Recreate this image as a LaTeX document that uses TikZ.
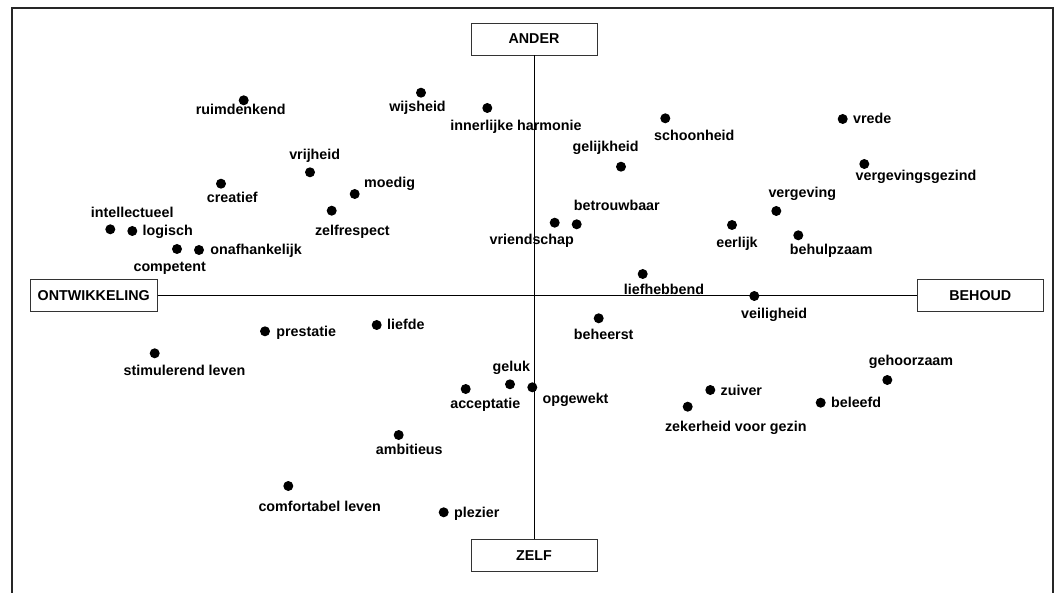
\documentclass[tikz,border=0pt]{standalone}
\usepackage{fontspec}
\setmainfont{Liberation Sans}
\usetikzlibrary{positioning}
\tikzset{
    dot/.style={circle, fill=black, inner sep=0pt, minimum size=10pt},
    lbl/.style={inner sep=0pt, text height=10pt, text depth=0pt, font=\bfseries\fontsize{14.3}{17}\selectfont},
    pole/.style={draw=black!80, line width=0.8pt, minimum width=126pt, minimum height=32pt, inner sep=0pt, font=\bfseries\fontsize{14.3}{17}\selectfont}
}

\begin{document}
\begin{tikzpicture}[x=1pt, y=-1pt]
    \useasboundingbox (0, 0) rectangle (1062, 593);
    \draw[line width=1.3pt, black!85] (12, 593) -- (12, 8) -- (1053, 8) -- (1053, 593);

    \node[pole] (ander) at (534, 39) {ANDER};
    \node[pole] (zelf) at (534, 555.5) {ZELF};
    \node[pole, minimum width=127pt] (ontw) at (93.7, 295.5) {ONTWIKKELING};
    \node[pole] (behoud) at (980.3, 295.5) {BEHOUD};
    \draw[line width=0.8pt] (ander) -- (zelf);
    \draw[line width=0.8pt] (ontw) -- (behoud);

    \node[dot] (d-ruim) at (243.7, 100.3) {};
    \node[lbl] (l-ruim) at (240.7, 110) {ruimdenkend};
    \node[dot] (d-vrij) at (310, 172.3) {};
    \node[lbl] (l-vrij) at (314.7, 155) {vrijheid};
    \node[dot] (d-crea) at (221, 183.7) {};
    \node[lbl] (l-crea) at (232.3, 197.3) {creatief};
    \node[dot] (d-intel) at (110.3, 229.3) {};
    \node[lbl] (l-intel) at (132.2, 212.3) {intellectueel};
    \node[dot] (d-logi) at (132.3, 231) {};
    \node[lbl, right=5pt of d-logi] (l-logi) {logisch};
    \node[dot] (d-comp) at (177, 249) {};
    \node[lbl] (l-comp) at (169.7, 266.7) {competent};
    \node[dot] (d-onaf) at (199, 250) {};
    \node[lbl, right=6pt of d-onaf] (l-onaf) {onafhankelijk};
    \node[dot] (d-zelfr) at (331.7, 210.7) {};
    \node[lbl] (l-zelfr) at (352.4, 230.7) {zelfrespect};
    \node[dot] (d-moed) at (354.7, 194) {};
    \node[lbl, anchor=west] (l-moed) at (364, 183) {moedig};
    \node[dot] (d-wijs) at (421, 92.7) {};
    \node[lbl] (l-wijs) at (417.5, 106.7) {wijsheid};
    \node[dot] (d-harm) at (487.3, 108) {};
    \node[lbl] (l-harm) at (516, 126) {innerlijke harmonie};
    \node[dot] (d-schoon) at (665.3, 118.3) {};
    \node[lbl, anchor=west] (l-schoon) at (654, 136) {schoonheid};
    \node[dot] (d-gelijk) at (621, 166.7) {};
    \node[lbl] (l-gelijk) at (605.7, 147) {gelijkheid};
    \node[dot] (d-betr) at (576.7, 224.3) {};
    \node[lbl] (l-betr) at (616.8, 206) {betrouwbaar};
    \node[dot] (d-vriend) at (554.7, 222.7) {};
    \node[lbl] (l-vriend) at (531.7, 240) {vriendschap};
    \node[dot] (d-liefh) at (642.7, 274) {};
    \node[lbl] (l-liefh) at (664, 290) {liefhebbend};
    \node[dot] (d-vrede) at (842.7, 119) {};
    \node[lbl, right=5pt of d-vrede] (l-vrede) {vrede};
    \node[dot] (d-vgez) at (864.3, 164) {};
    \node[lbl] (l-vgez) at (916, 176) {vergevingsgezind};
    \node[dot] (d-vgev) at (776.3, 211) {};
    \node[lbl] (l-vgev) at (802.3, 192.7) {vergeving};
    \node[dot] (d-eerl) at (732, 225) {};
    \node[lbl] (l-eerl) at (737, 242.3) {eerlijk};
    \node[dot] (d-behulp) at (798.3, 235.3) {};
    \node[lbl] (l-behulp) at (831.3, 250) {behulpzaam};
    \node[dot] (d-veil) at (754.3, 296) {};
    \node[lbl] (l-veil) at (774.2, 314) {veiligheid};
    \node[dot] (d-prest) at (265, 331.3) {};
    \node[lbl, right=6pt of d-prest] (l-prest) {prestatie};
    \node[dot] (d-stim) at (154.7, 353.3) {};
    \node[lbl] (l-stim) at (184.5, 370) {stimulerend leven};
    \node[dot] (d-comf) at (288.3, 486) {};
    \node[lbl, anchor=west] (l-comf) at (258.3, 506.7) {comfortabel leven};
    \node[dot] (d-liefde) at (376.7, 325) {};
    \node[lbl, right=5pt of d-liefde] (l-liefde) {liefde};
    \node[dot] (d-beh) at (598.7, 318.3) {};
    \node[lbl] (l-beh) at (603.7, 335) {beheerst};
    \node[dot] (d-geluk) at (510, 384.3) {};
    \node[lbl] (l-geluk) at (511.3, 366.3) {geluk};
    \node[dot] (d-accept) at (465.7, 389) {};
    \node[lbl] (l-accept) at (485.3, 403.3) {acceptatie};
    \node[dot] (d-opgew) at (532.3, 387.3) {};
    \node[lbl] (l-opgew) at (575.5, 398.3) {opgewekt};
    \node[dot] (d-ambi) at (398.7, 435) {};
    \node[lbl] (l-ambi) at (409.3, 449.3) {ambitieus};
    \node[dot] (d-plez) at (443.7, 512.3) {};
    \node[lbl, right=5pt of d-plez] (l-plez) {plezier};
    \node[dot] (d-zeker) at (687.7, 406.7) {};
    \node[lbl, anchor=east] (l-zeker) at (806.7, 426.7) {zekerheid voor gezin};
    \node[dot] (d-zuiver) at (710.3, 390) {};
    \node[lbl, right=5pt of d-zuiver] (l-zuiver) {zuiver};
    \node[dot] (d-beleefd) at (820.7, 402.7) {};
    \node[lbl, right=5pt of d-beleefd] (l-beleefd) {beleefd};
    \node[dot] (d-gehoor) at (887.3, 380) {};
    \node[lbl] (l-gehoor) at (911, 360.7) {gehoorzaam};
\end{tikzpicture}
\end{document}
